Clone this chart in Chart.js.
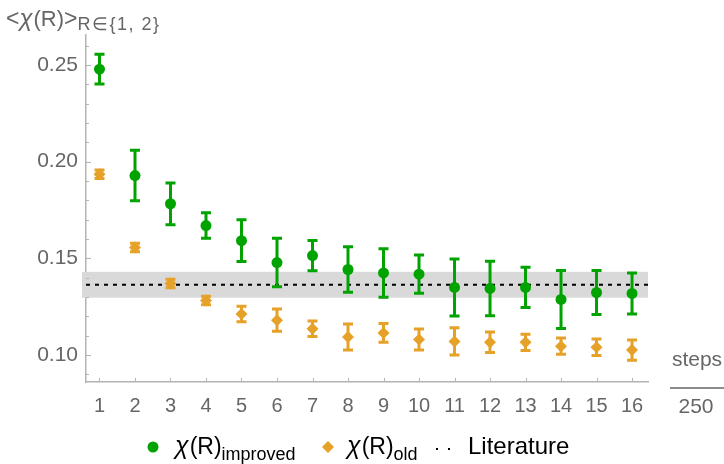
<!DOCTYPE html>
<html>
<head>
<meta charset="utf-8">
<script src="https://cdn.jsdelivr.net/npm/chart.js@4.4.1/dist/chart.umd.min.js"></script>
<style>
  html, body { margin: 0; padding: 0; background: #fff; }
  #wrap { width: 724px; height: 464px; position: relative; }
</style>
</head>
<body>
<div id="wrap"><canvas id="chi-chart"></canvas></div>
<script>
// steps / 250
const steps = [1, 2, 3, 4, 5, 6, 7, 8, 9, 10, 11, 12, 13, 14, 15, 16];

// <chi(R)> improved, with error
const improved = [0.2478, 0.1928, 0.1782, 0.1669, 0.1591, 0.1478, 0.1514, 0.1442, 0.1424, 0.1418, 0.1349, 0.1344, 0.1349, 0.1287, 0.1323, 0.1318];
const improvedErr = [0.0077, 0.0131, 0.0108, 0.0066, 0.0108, 0.0125, 0.0078, 0.0118, 0.0125, 0.0099, 0.0147, 0.0141, 0.0104, 0.0150, 0.0114, 0.0106];

// <chi(R)> old, with error
const old = [0.1935, 0.1556, 0.1370, 0.1281, 0.1212, 0.1180, 0.1135, 0.1093, 0.1114, 0.1080, 0.1070, 0.1066, 0.1065, 0.1045, 0.1040, 0.1025];
const oldErr = [0.0022, 0.0022, 0.0022, 0.0022, 0.0040, 0.0058, 0.0040, 0.0067, 0.0049, 0.0054, 0.0070, 0.0053, 0.0042, 0.0042, 0.0043, 0.0052];

// literature value and band
const literature = 0.1363;
const literatureErr = 0.0067;

const yLabelTicks = [0.10, 0.15, 0.20, 0.25];

const GREEN = "#00a300";
const ORANGE = "#e6a128";
const GREY = "#666666";
const FONT = "'Liberation Sans', Arial, sans-serif";

// error bars + literature band
const errorBars = {
  id: "errorBars",
  beforeDatasetsDraw(chart) {
    const { ctx, chartArea, scales: { y } } = chart;
    const top = y.getPixelForValue(literature + literatureErr);
    const bot = y.getPixelForValue(literature - literatureErr);
    ctx.save();
    ctx.fillStyle = "#d9d9d9";
    ctx.fillRect(chartArea.left - 4, top, chartArea.right - chartArea.left + 4, bot - top);
    ctx.restore();
  },
  beforeDatasetDraw(chart, args) {
    const ds = chart.data.datasets[args.index];
    if (!ds.err) return;
    const { ctx, scales: { x, y } } = chart;
    ctx.save();
    ctx.strokeStyle = ds.borderColor;
    ctx.lineWidth = 3;
    ds.data.forEach((p, i) => {
      const px = x.getPixelForValue(p.x);
      const y1 = y.getPixelForValue(p.y + ds.err[i]);
      const y2 = y.getPixelForValue(p.y - ds.err[i]);
      ctx.beginPath();
      ctx.moveTo(px, y1); ctx.lineTo(px, y2);
      ctx.moveTo(px - 5, y1); ctx.lineTo(px + 5, y1);
      ctx.moveTo(px - 5, y2); ctx.lineTo(px + 5, y2);
      ctx.stroke();
    });
    ctx.restore();
  }
};

// draws "chi(R)" + subscript, returns end x
function chiLabel(ctx, x, base, size, sub, subSize, subDrop, spacing) {
  ctx.letterSpacing = "0px";
  ctx.font = "italic " + (size + 2) + "px " + FONT;
  ctx.fillText("χ", x, base);
  x += ctx.measureText("χ").width + 1;
  ctx.font = size + "px " + FONT;
  ctx.fillText("(R)", x, base);
  x += ctx.measureText("(R)").width;
  ctx.font = subSize + "px " + FONT;
  ctx.letterSpacing = spacing + "px";
  ctx.fillText(sub, x, base + subDrop);
  x += ctx.measureText(sub).width;
  ctx.letterSpacing = "0px";
  return x;
}

// inward ticks, axis titles and legend with subscripts
const decorations = {
  id: "decorations",
  afterDraw(chart) {
    const { ctx, chartArea, scales: { x, y } } = chart;
    ctx.save();
    ctx.strokeStyle = "#b4b4b4";
    ctx.lineWidth = 1;
    y.ticks.forEach(t => {
      const py = Math.round(y.getPixelForValue(t.value)) + 0.5;
      const major = yLabelTicks.some(v => Math.abs(v - t.value) < 1e-6);
      ctx.beginPath();
      ctx.moveTo(chartArea.left, py);
      ctx.lineTo(chartArea.left + (major ? 5 : 3), py);
      ctx.stroke();
    });
    x.ticks.forEach(t => {
      const px = Math.round(x.getPixelForValue(t.value)) + 0.5;
      ctx.beginPath();
      ctx.moveTo(px, chartArea.bottom);
      ctx.lineTo(px, chartArea.bottom - 4);
      ctx.stroke();
    });

    // y title
    ctx.fillStyle = GREY;
    ctx.textBaseline = "alphabetic";
    ctx.textAlign = "left";
    ctx.font = "23px " + FONT;
    ctx.fillText("<", 6, 26);
    let px = 6 + ctx.measureText("<").width;
    ctx.font = "italic 24px " + FONT;
    ctx.fillText("χ", px, 26);
    px += ctx.measureText("χ").width + 1;
    ctx.font = "22px " + FONT;
    ctx.fillText("(R)", px, 26);
    px += ctx.measureText("(R)").width;
    ctx.font = "23px " + FONT;
    ctx.fillText(">", px, 26);
    px += ctx.measureText(">").width;
    ctx.font = "18px " + FONT;
    ctx.letterSpacing = "1.5px";
    ctx.fillText("R∈{1, 2}", px, 30);
    ctx.letterSpacing = "0px";

    // x title
    ctx.font = "21px " + FONT;
    ctx.textAlign = "center";
    ctx.fillText("steps", 697, 366);
    ctx.fillText("250", 696, 413);
    ctx.strokeStyle = GREY;
    ctx.lineWidth = 1.5;
    ctx.beginPath();
    ctx.moveTo(670, 388); ctx.lineTo(724, 388);
    ctx.stroke();

    // legend
    const base = 454;
    ctx.textAlign = "left";
    ctx.fillStyle = GREEN;
    ctx.beginPath();
    ctx.arc(153, base - 7, 5.5, 0, Math.PI * 2);
    ctx.fill();
    ctx.fillStyle = "#000";
    chiLabel(ctx, 175, base, 23, "improved", 18, 6, 0);

    ctx.fillStyle = ORANGE;
    ctx.beginPath();
    ctx.moveTo(328, base - 13); ctx.lineTo(334, base - 7);
    ctx.lineTo(328, base - 1); ctx.lineTo(322, base - 7);
    ctx.closePath();
    ctx.fill();
    ctx.fillStyle = "#000";
    chiLabel(ctx, 347, base, 23, "old", 18, 6, 0);

    ctx.fillRect(436, base - 6, 2, 2);
    ctx.fillRect(448, base - 6, 2, 2);
    ctx.font = "24px " + FONT;
    ctx.fillText("Literature", 468, base);
    ctx.restore();
  }
};

new Chart(document.getElementById("chi-chart"), {
  type: "scatter",
  data: {
    datasets: [
      {
        label: "improved",
        data: steps.map((s, i) => ({ x: s, y: improved[i] })),
        err: improvedErr,
        backgroundColor: GREEN,
        borderColor: GREEN,
        pointStyle: "circle",
        pointRadius: 5.5,
        pointBorderWidth: 0,
        order: 1
      },
      {
        label: "old",
        data: steps.map((s, i) => ({ x: s, y: old[i] })),
        err: oldErr,
        backgroundColor: ORANGE,
        borderColor: ORANGE,
        pointStyle: "rectRot",
        pointRadius: 6,
        pointBorderWidth: 0,
        order: 2
      },
      {
        label: "Literature",
        type: "line",
        data: [{ x: 0.62, y: literature }, { x: 16.45, y: literature }],
        borderColor: "#000",
        borderWidth: 2,
        borderDash: [4, 5],
        pointRadius: 0,
        order: 3
      }
    ]
  },
  options: {
    responsive: true,
    maintainAspectRatio: false,
    animation: false,
    layout: { padding: { left: 0, top: 35, right: 76, bottom: 0 } },
    plugins: {
      legend: { display: false },
      tooltip: { enabled: false }
    },
    scales: {
      x: {
        type: "linear",
        min: 0.62,
        max: 16.45,
        afterFit: s => { s.height = 82; },
        border: { color: "#b4b4b4", width: 1.5 },
        grid: { display: false },
        ticks: {
          stepSize: 1,
          includeBounds: false,
          padding: 4,
          color: GREY,
          font: { family: FONT, size: 20 },
          maxRotation: 0
        }
      },
      y: {
        min: 0.086,
        max: 0.2655,
        afterFit: s => { s.width = 86; },
        border: { color: "#b4b4b4", width: 1.5 },
        grid: { display: false },
        ticks: {
          stepSize: 0.01,
          includeBounds: false,
          autoSkip: false,
          padding: 0,
          color: GREY,
          font: { family: FONT, size: 21 },
          callback: v => yLabelTicks.some(t => Math.abs(t - v) < 1e-6) ? v.toFixed(2) : ""
        }
      }
    }
  },
  plugins: [errorBars, decorations]
});
</script>
</body>
</html>
